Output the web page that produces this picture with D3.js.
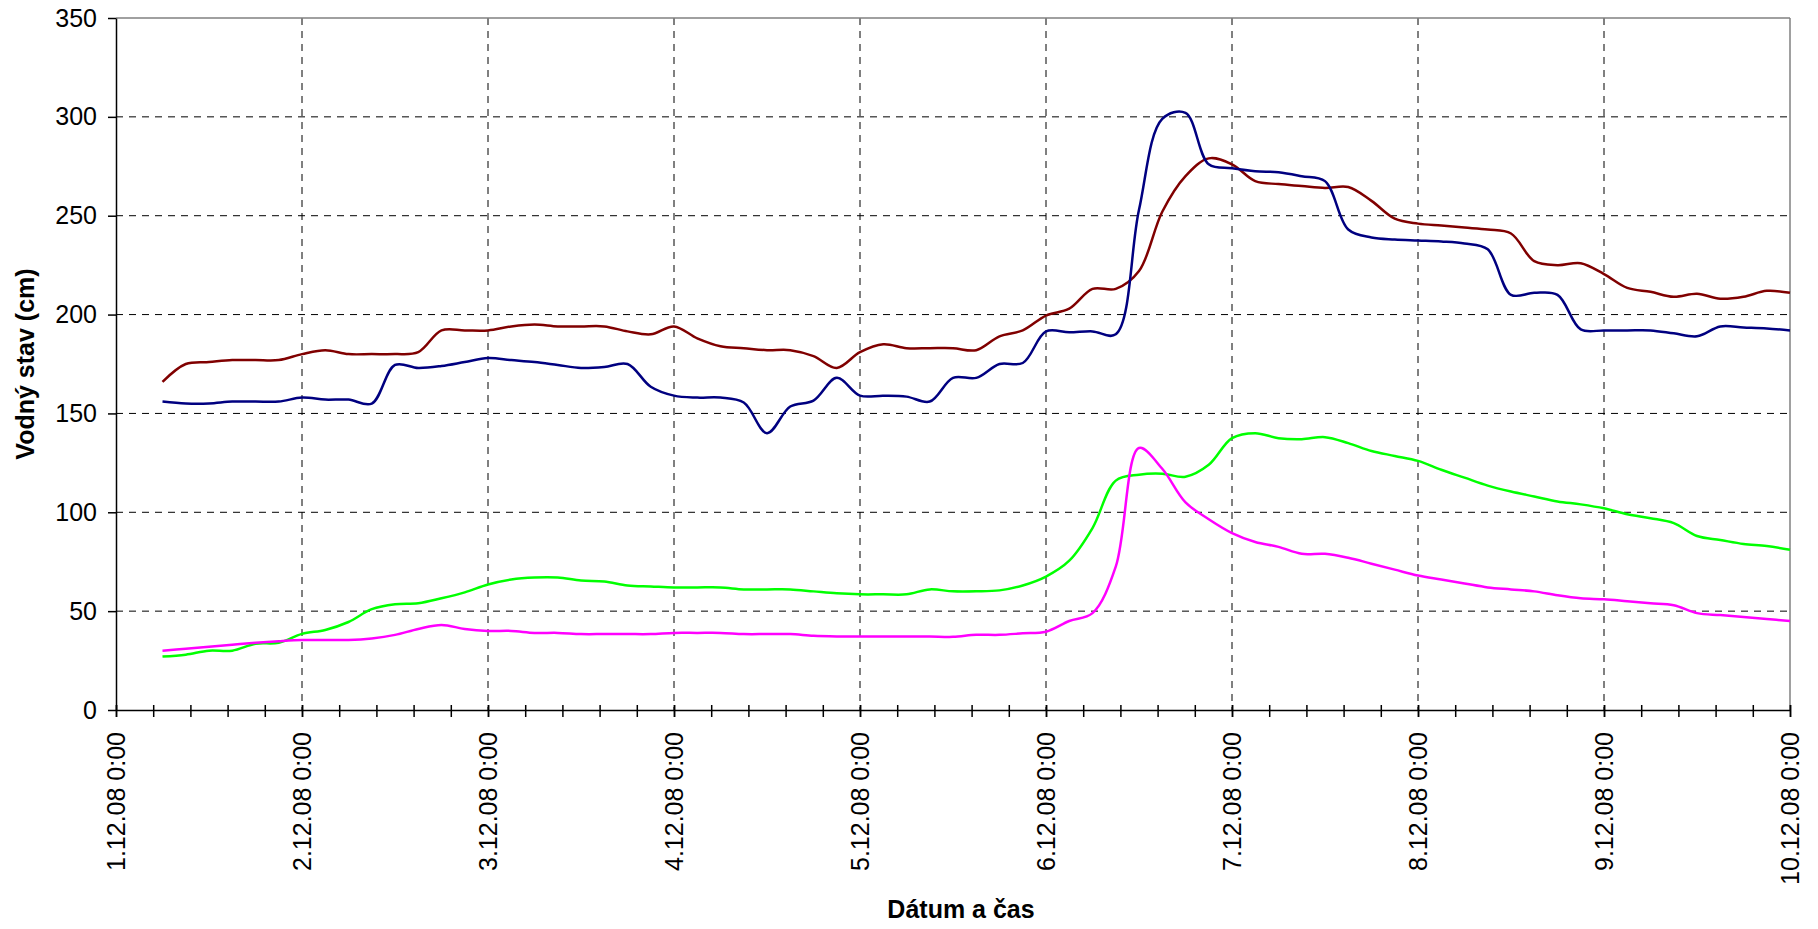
<!DOCTYPE html>
<meta charset="utf-8">
<style>
body {
  margin: 0;
  background-color: #ffffff;
  font-family: 'Liberation Sans', Arial, sans-serif;
}
text {
  font-family: 'Liberation Sans', Arial, sans-serif;
  fill: #000;
}
.axis text {
  font-size: 25px;
}
.axis path,
.axis line {
  fill: none;
  stroke: #000;
  stroke-width: 1.5px;
}
.grid line {
  stroke: #000;
  stroke-width: 1px;
  stroke-dasharray: 7,6;
}
.border {
  stroke: #808080;
  stroke-width: 1.5px;
}
.series {
  fill: none;
  stroke-width: 2.5px;
  stroke-linejoin: round;
}
.title {
  font-size: 25px;
  font-weight: bold;
}
</style>
<svg width="1818" height="929"></svg>
<script src="https://d3js.org/d3.v7.min.js"></script>
<script>
// measurements every 3 hours, from 1.12.08 6:00 to 10.12.08 0:00
var startTime = new Date(2008, 11, 1, 6, 0);
var stepHours = 3;

// each row after the first = one day (8 readings)
var red = [166, 175, 176, 177, 177, 177, 180,
  182, 180, 180, 180, 181, 192, 192, 192,
  194, 195, 194, 194, 194, 191.5, 190, 194,
  188, 184, 183, 182, 182, 179, 173, 181,
  185, 183, 183, 183, 182, 189, 192, 199.5,
  203, 213, 213, 222, 252, 270, 279, 276,
  267.5, 266, 265, 264, 264.5, 257.5, 248.5, 246,
  245, 244, 243, 241, 227, 225, 226, 220.5,
  213.5, 211.5, 209, 210.5, 208, 209, 212, 211];

var blue = [156, 155, 155, 156, 156, 156, 158,
  157, 157, 155, 174.5, 173, 174, 176, 178,
  177, 176, 174.5, 173, 173.5, 175, 163.5, 159,
  158, 158, 155.5, 140, 153.5, 156.5, 168, 159,
  159, 158.5, 156, 168, 168, 175, 175.5, 191.5,
  191, 191.5, 190, 253, 299, 302, 276, 274,
  272.5, 272, 270, 267.5, 243, 239, 238, 237.5,
  237, 236, 233, 210, 211, 210, 192.5, 192,
  192, 192, 190.5, 189, 194, 193.5, 193, 192];

var green = [27, 28, 30, 30, 33.5, 34, 38.5,
  40.5, 44.5, 51, 53.5, 54, 56.5, 59.5, 63.5,
  66, 67, 67, 65.5, 65, 63, 62.5, 62,
  62, 62, 61, 61, 61, 60, 59, 58.5,
  58.5, 58.5, 61, 60, 60, 60.5, 63, 67.5,
  75.5, 92, 116, 119, 119.5, 118, 124, 137.5,
  140, 137.5, 137, 138, 135, 131, 128.5, 126,
  121.5, 117.5, 113.5, 110.5, 108, 105.5, 104, 102,
  99, 97, 94.5, 88, 86, 84, 83, 81];

var magenta = [30, 31, 32, 33, 34, 34.8, 35.4,
  35.4, 35.4, 36.2, 38, 41, 43, 41, 40,
  40, 39, 39, 38.4, 38.4, 38.4, 38.4, 39,
  39, 39, 38.4, 38.4, 38.4, 37.5, 37.2, 37.2,
  37.2, 37.2, 37.2, 37, 38, 38, 38.8, 39.6,
  45, 49, 72.5, 132.5, 122, 105, 96.5, 89.5,
  85, 82.5, 79, 79, 77, 74, 71, 68,
  66, 64, 62, 61, 60, 58, 56.5, 56,
  55, 54, 53, 49, 48, 47, 46, 45];

var seriesColors = ["#800000", "#000080", "#00ff00", "#ff00ff"];
var yTicks = [0, 50, 100, 150, 200, 250, 300, 350];
var xStart = new Date(2008, 11, 1), xEnd = new Date(2008, 11, 10);

var svg = d3.select("svg"),
    margin = {top: 18, right: 28, bottom: 219, left: 116},
    width = +svg.attr("width") - margin.left - margin.right,
    height = +svg.attr("height") - margin.top - margin.bottom;

var g = svg.append("g")
    .attr("transform", "translate(" + margin.left + "," + margin.top + ")");

var x = d3.scaleTime().domain([xStart, xEnd]).range([0, width]);
var y = d3.scaleLinear().domain([0, 350]).range([height, 0]);

var days = d3.timeDay.range(xStart, d3.timeDay.offset(xEnd, 1));
// 5 minor ticks per day
var minor = d3.range(0, 9 * 5 + 1).map(function(k) {
  return new Date(xStart.getTime() + k * 4.8 * 3600 * 1000);
});

// grid
g.append("g").attr("class", "grid")
  .selectAll("line").data(yTicks.slice(1, -1))
  .enter().append("line")
    .attr("x1", 0).attr("x2", width)
    .attr("y1", function(d) { return y(d); })
    .attr("y2", function(d) { return y(d); });

g.append("g").attr("class", "grid")
  .selectAll("line").data(days.slice(1, -1))
  .enter().append("line")
    .attr("y1", 0).attr("y2", height)
    .attr("x1", function(d) { return x(d); })
    .attr("x2", function(d) { return x(d); });

g.append("line").attr("class", "border")
  .attr("x1", 0).attr("x2", width).attr("y1", y(350)).attr("y2", y(350));
g.append("line").attr("class", "border")
  .attr("x1", x(xEnd)).attr("x2", x(xEnd)).attr("y1", 0).attr("y2", height);

// series
var times = red.map(function(d, i) { return d3.timeHour.offset(startTime, i * stepHours); });

var line = d3.line()
    .x(function(d) { return x(d[0]); })
    .y(function(d) { return y(d[1]); })
    .curve(d3.curveCatmullRom.alpha(0.5));

[red, blue, green, magenta].forEach(function(vals, k) {
  g.append("path")
    .attr("class", "series")
    .attr("stroke", seriesColors[k])
    .attr("d", line(vals.map(function(v, i) { return [times[i], v]; })));
});

// axes
g.append("g")
    .attr("class", "y axis")
    .call(d3.axisLeft(y).tickValues(yTicks).tickSizeInner(8).tickSizeOuter(0).tickPadding(11));

var xMinor = g.append("g")
    .attr("class", "x axis")
    .attr("transform", "translate(0," + height + ")")
    .call(d3.axisBottom(x).tickValues(minor).tickFormat("").tickSizeInner(7).tickSizeOuter(0));
xMinor.selectAll(".tick line").attr("y1", -5);

var xMajor = g.append("g")
    .attr("class", "x axis")
    .attr("transform", "translate(0," + height + ")")
    .call(d3.axisBottom(x).tickValues(days).tickFormat(d3.timeFormat("%-d.%m.%y %-H:%M")).tickSizeInner(7).tickSizeOuter(0));
xMajor.selectAll(".tick line").attr("y1", -5);
xMajor.select(".domain").remove();
xMajor.selectAll(".tick text")
    .attr("text-anchor", "end")
    .attr("transform", "rotate(-90)")
    .attr("x", -22)
    .attr("y", 0)
    .attr("dy", "0.35em");

// titles
svg.append("text")
    .attr("class", "title")
    .attr("text-anchor", "middle")
    .attr("transform", "translate(34," + (margin.top + height / 2) + ") rotate(-90)")
    .text("Vodný stav (cm)");

svg.append("text")
    .attr("class", "title")
    .attr("text-anchor", "middle")
    .attr("x", 961)
    .attr("y", 918)
    .text("Dátum a čas");
</script>
